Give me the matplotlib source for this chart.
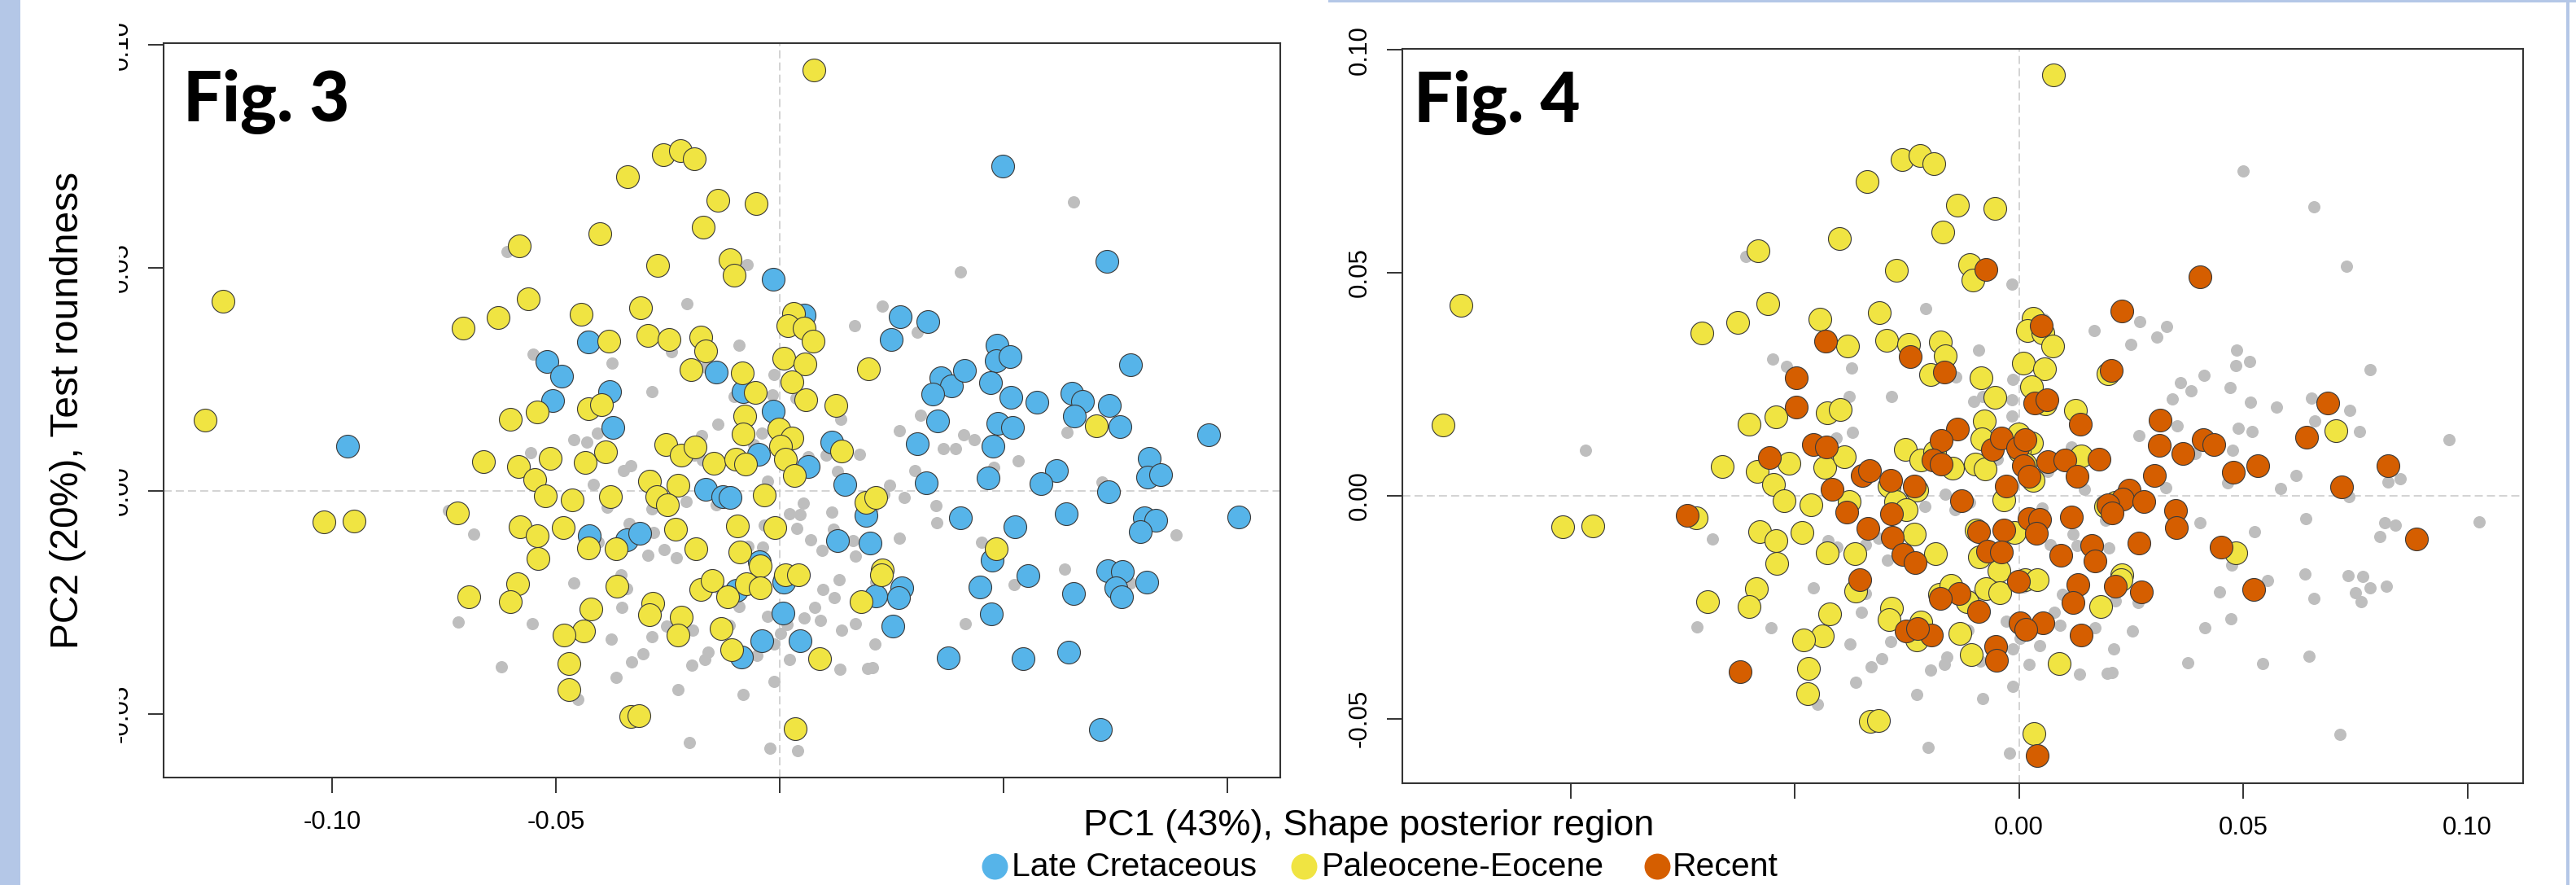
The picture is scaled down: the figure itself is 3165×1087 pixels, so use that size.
import matplotlib
matplotlib.use('Agg')
import matplotlib.pyplot as plt
from matplotlib.patches import Rectangle
from matplotlib.lines import Line2D

plt.rcParams['font.family'] = ['Liberation Sans', 'DejaVu Sans']

# ---------------- data (PC1, PC2) ----------------
lc_points = [  # Late Cretaceous
    (-0.0428, 0.0334), (-0.0519, 0.0290), (-0.0488, 0.0258), (-0.0507, 0.0203), (-0.0379, 0.0223),
    (-0.0372, 0.0142), (-0.0015, 0.0475), (0.0269, 0.0391), (0.0330, 0.0379), (0.0250, 0.0339),
    (-0.0141, 0.0266), (-0.0081, 0.0223), (-0.0015, 0.0179), (0.0055, 0.0395), (0.0360, 0.0254),
    (0.0383, 0.0236), (0.0342, 0.0217), (0.0353, 0.0157), (-0.0425, -0.0100), (-0.0342, -0.0110),
    (-0.0313, -0.0095), (-0.0048, 0.0082), (0.0064, 0.0054), (0.0116, 0.0110), (0.0308, 0.0106),
    (0.0145, 0.0015), (0.0328, 0.0018), (-0.0165, 0.0004), (-0.0127, -0.0013), (-0.0110, -0.0015),
    (0.0193, -0.0055), (0.0130, -0.0112), (0.0201, -0.0117), (-0.0045, -0.0159), (0.0010, -0.0205),
    (-0.0096, -0.0223), (0.0007, -0.0274), (-0.0040, -0.0337), (0.0046, -0.0337), (-0.0086, -0.0372),
    (0.0214, -0.0236), (0.0272, -0.0217), (0.0265, -0.0239), (0.0252, -0.0304), (-0.0966, 0.0101),
    (0.0499, 0.0728), (0.0731, 0.0514), (0.0783, 0.0283), (0.0486, 0.0326), (0.0483, 0.0291),
    (0.0514, 0.0301), (0.0412, 0.0270), (0.0471, 0.0243), (0.0516, 0.0209), (0.0574, 0.0198),
    (0.0653, 0.0219), (0.0677, 0.0200), (0.0737, 0.0192), (0.0659, 0.0167), (0.0759, 0.0144),
    (0.0488, 0.0152), (0.0520, 0.0143), (0.0477, 0.0101), (0.0958, 0.0126), (0.0826, 0.0073),
    (0.0822, 0.0031), (0.0850, 0.0037), (0.0618, 0.0045), (0.0583, 0.0016), (0.0466, 0.0029),
    (0.0735, -0.0003), (0.0640, -0.0051), (0.0815, -0.0061), (0.0839, -0.0066), (0.0805, -0.0091),
    (0.1026, -0.0058), (0.0525, -0.0080), (0.0475, -0.0156), (0.0555, -0.0191), (0.0733, -0.0180),
    (0.0766, -0.0181), (0.0750, -0.0218), (0.0763, -0.0237), (0.0820, -0.0204), (0.0657, -0.0230),
    (0.0447, -0.0215), (0.0473, -0.0276), (0.0646, -0.0361), (0.0544, -0.0377), (0.0377, -0.0375),
    (0.0716, -0.0536), (0.0403, -0.0060),
]

pe_points = [  # Paleocene-Eocene
    (-0.1244, 0.0426), (-0.1284, 0.0159), (-0.1018, -0.0070), (-0.0950, -0.0068), (0.0076, 0.0943),
    (0.0707, 0.0145), (0.0484, -0.0129),
    (-0.0339, 0.0704), (-0.0401, 0.0577), (-0.0582, 0.0549), (-0.0273, 0.0506), (-0.0561, 0.0430),
    (-0.0628, 0.0389), (-0.0707, 0.0365), (-0.0444, 0.0396), (-0.0311, 0.0411), (-0.0295, 0.0348),
    (-0.0382, 0.0335), (-0.0601, 0.0161), (-0.0542, 0.0176), (-0.0428, 0.0185), (-0.0398, 0.0193),
    (-0.0260, 0.0754), (-0.0221, 0.0763), (-0.0190, 0.0745), (-0.0138, 0.0652), (-0.0053, 0.0644),
    (-0.0170, 0.0592), (-0.0110, 0.0519), (-0.0102, 0.0484), (0.0031, 0.0398), (0.0019, 0.0371),
    (0.0054, 0.0365), (0.0075, 0.0335), (-0.0247, 0.0339), (-0.0176, 0.0345), (-0.0165, 0.0313),
    (-0.0198, 0.0272), (-0.0084, 0.0265), (-0.0054, 0.0221), (0.0010, 0.0298), (0.0057, 0.0285),
    (0.0027, 0.0244), (0.0058, 0.0205), (0.0199, 0.0273), (0.0126, 0.0192), (-0.0078, 0.0167),
    (-0.0002, 0.0139),
    (-0.0661, 0.0065), (-0.0583, 0.0055), (-0.0513, 0.0072), (-0.0434, 0.0063), (-0.0389, 0.0088),
    (-0.0547, 0.0026), (-0.0524, -0.0012), (-0.0464, -0.0021), (-0.0378, -0.0013), (-0.0290, 0.0021),
    (-0.0275, -0.0013), (-0.0719, -0.0049), (-0.0579, -0.0080), (-0.0542, -0.0100), (-0.0484, -0.0082),
    (-0.0428, -0.0128), (-0.0366, -0.0130), (-0.0540, -0.0152), (-0.0586, -0.0208), (-0.0695, -0.0238),
    (-0.0601, -0.0249), (-0.0364, -0.0214), (-0.0422, -0.0265), (-0.0438, -0.0314), (-0.0481, -0.0323),
    (-0.0284, -0.0252), (-0.0290, -0.0278), (-0.0470, -0.0388), (-0.0471, -0.0445), (-0.0332, -0.0506),
    (-0.0314, -0.0504),
    (-0.0254, 0.0103), (-0.0219, 0.0080), (-0.0189, 0.0099), (-0.0148, 0.0062), (-0.0098, 0.0071),
    (-0.0076, 0.0060), (-0.0082, 0.0128), (0.0028, 0.0118), (0.0001, 0.0100), (0.0013, 0.0071),
    (0.0032, 0.0034), (0.0139, 0.0089), (-0.0228, 0.0013), (-0.0251, -0.0031), (-0.0034, -0.0010),
    (-0.0233, -0.0086), (-0.0095, -0.0078), (-0.0010, -0.0083), (-0.0187, -0.0130), (-0.0089, -0.0137),
    (-0.0044, -0.0169), (0.0013, -0.0189), (0.0041, -0.0189), (-0.0177, -0.0221), (-0.0151, -0.0201),
    (-0.0116, -0.0238), (-0.0074, -0.0209), (-0.0043, -0.0217), (-0.0219, -0.0284), (-0.0228, -0.0323),
    (-0.0131, -0.0309), (-0.0107, -0.0357), (0.0090, -0.0377), (0.0034, -0.0534), (0.0193, -0.0025),
    (0.0215, -0.0015), (0.0230, -0.0177), (0.0227, -0.0189), (0.0182, -0.0248),
]

rec_points = [  # Recent
    (-0.0432, 0.0347), (-0.0242, 0.0312), (-0.0496, 0.0265), (-0.0497, 0.0199), (-0.0556, 0.0086),
    (-0.0459, 0.0115), (-0.0430, 0.0109), (-0.0417, 0.0015), (-0.0349, 0.0045), (-0.0333, 0.0056),
    (-0.0286, 0.0035), (-0.0234, 0.0022), (-0.0385, -0.0037), (-0.0285, -0.0041), (-0.0337, -0.0074),
    (-0.0282, -0.0093), (-0.0258, -0.0131), (-0.0231, -0.0150), (-0.0739, -0.0044), (-0.0355, -0.0189),
    (-0.0622, -0.0394), (-0.0252, -0.0304),
    (-0.0073, 0.0507), (0.0229, 0.0414), (0.0049, 0.0382), (-0.0166, 0.0278), (0.0205, 0.0280),
    (0.0036, 0.0207), (0.0063, 0.0215), (0.0137, 0.0161), (0.0315, 0.0169), (0.0312, 0.0112),
    (0.0365, 0.0095), (0.0301, 0.0045), (-0.0138, 0.0149), (-0.0174, 0.0124), (-0.0191, 0.0080),
    (-0.0173, 0.0070), (-0.0059, 0.0103), (-0.0040, 0.0130), (-0.0003, 0.0107), (0.0014, 0.0126),
    (0.0010, 0.0068), (0.0022, 0.0043), (0.0064, 0.0076), (0.0103, 0.0080), (0.0130, 0.0043),
    (0.0178, 0.0082), (-0.0028, 0.0022), (-0.0129, -0.0011), (0.0246, 0.0012), (0.0232, -0.0008),
    (0.0279, -0.0014), (0.0199, -0.0020), (0.0208, -0.0039), (0.0349, -0.0034), (0.0351, -0.0072),
    (0.0022, -0.0051), (0.0046, -0.0054), (0.0039, -0.0085), (0.0116, -0.0048), (-0.0090, -0.0080),
    (-0.0034, -0.0077), (-0.0070, -0.0124), (-0.0039, -0.0126), (0.0094, -0.0134), (0.0163, -0.0112),
    (0.0170, -0.0147), (0.0268, -0.0106), (-0.0002, -0.0193), (0.0132, -0.0200), (0.0121, -0.0239),
    (0.0215, -0.0204), (0.0273, -0.0216), (-0.0134, -0.0220), (-0.0176, -0.0231), (-0.0091, -0.0260),
    (0.0002, -0.0285), (0.0054, -0.0285), (0.0016, -0.0300), (0.0138, -0.0312), (-0.0195, -0.0312),
    (-0.0052, -0.0339), (-0.0050, -0.0370), (0.0040, -0.0583),
    (0.0403, 0.0491), (0.0688, 0.0207), (0.0642, 0.0131), (0.0410, 0.0125), (0.0434, 0.0115),
    (0.0478, 0.0052), (0.0533, 0.0068), (0.0822, 0.0068), (0.0720, 0.0019), (0.0451, -0.0116),
    (0.0523, -0.0210), (0.0886, -0.0098), (-0.0227, -0.0298),
]

other_points = [  # specimens of other ages (grey in both panels)
    (-0.0609, 0.0537), (-0.0550, 0.0307), (-0.0374, 0.0286), (-0.0285, 0.0222), (-0.0407, 0.0130),
    (-0.0684, -0.0097), (-0.0406, -0.0116), (-0.0294, -0.0144), (-0.0459, -0.0207), (-0.0342, -0.0220),
    (-0.0352, -0.0262), (-0.0718, -0.0295), (-0.0553, -0.0297), (-0.0376, -0.0333), (-0.0286, -0.0327),
    (-0.0306, -0.0366), (-0.0330, -0.0383), (-0.0365, -0.0418), (-0.0450, -0.0468), (-0.0228, -0.0446),
    (-0.0208, 0.0420), (0.0168, 0.0370), (0.0307, 0.0355), (-0.0091, 0.0326), (-0.0013, 0.0261),
    (-0.0101, 0.0211), (-0.0016, 0.0215), (0.0268, 0.0134), (-0.0209, -0.0024), (-0.0142, -0.0031),
    (0.0052, -0.0028), (0.0120, -0.0087), (0.0069, -0.0110), (0.0097, -0.0221), (0.0078, -0.0262),
    (0.0091, -0.0291), (0.0169, -0.0297), (-0.0028, -0.0281), (0.0002, -0.0320), (-0.0013, -0.0343),
    (-0.0160, -0.0362), (-0.0167, -0.0379), (-0.0197, -0.0391), (0.0022, -0.0379), (0.0135, -0.0400),
    (0.0196, -0.0398), (0.0208, -0.0396), (0.0212, -0.0344), (-0.0013, -0.0427), (-0.0081, -0.0456),
    (-0.0202, -0.0565), (-0.0022, -0.0577), (0.0393, 0.0095), (0.0637, -0.0176), (0.0783, -0.0207),
    (0.0414, -0.0297), (0.0657, 0.0648), (-0.0113, -0.0302),
]

x_ticks = [-0.10, -0.05, 0.00, 0.05, 0.10]
y_ticks = [-0.05, 0.00, 0.05, 0.10]
x_labels_fig3 = ['-0.10', '-0.05', '', '', '']
x_labels_fig4 = ['', '', '0.00', '0.05', '0.10']
y_labels = ['-0.05', '0.00', '0.05', '0.10']

legend_labels = ['Late Cretaceous', 'Paleocene-Eocene', 'Recent']
COL_LC, COL_PE, COL_REC = '#56B4E9', '#F0E442', '#D55E00'
GREY = '#BEBEBE'

# ---------------- figure ----------------
W, H = 3165, 1087
fig = plt.figure(figsize=(W / 100, H / 100), dpi=100)
fig.patch.set_facecolor('white')


def fxy(px, py):
    return px / W, 1 - py / H


all_points = lc_points + pe_points + rec_points + other_points


def draw_panel(ax, xlim, ylim, overlays, xlabels):
    ax.set_xlim(*xlim)
    ax.set_ylim(*ylim)
    dash = (0, (6.5, 3.3))
    ax.axhline(0, color='#c8c8c8', lw=1.1, ls=dash, zorder=1)
    ax.axvline(0, color='#c8c8c8', lw=1.1, ls=dash, zorder=1)
    ax.scatter([p[0] for p in all_points], [p[1] for p in all_points],
               s=117, c=GREY, linewidths=0, zorder=2)
    for k, (pts, col) in enumerate(overlays):
        ax.scatter([p[0] for p in pts], [p[1] for p in pts], s=406, c=col,
                   edgecolors='#3a3a3a', linewidths=0.8, zorder=3 + k)
    for sp in ax.spines.values():
        sp.set_linewidth(1.5)
        sp.set_color('#333333')
    ax.set_xticks(x_ticks)
    ax.set_xticklabels(xlabels)
    ax.set_yticks(y_ticks)
    ax.set_yticklabels(y_labels, rotation=90, va='center')
    ax.tick_params(axis='both', length=13.7, width=1.4, color='#333333',
                   labelsize=22.5)
    ax.tick_params(axis='x', pad=15)
    ax.tick_params(axis='y', pad=13)


ax3 = fig.add_axes([201 / W, 1 - 955 / H, (1573 - 201) / W, (955 - 53) / H])
draw_panel(ax3, (-0.1376, 0.1118), (-0.0643, 0.1004),
           [(lc_points, COL_LC), (pe_points, COL_PE)], x_labels_fig3)

ax4 = fig.add_axes([1723 / W, 1 - 962 / H, (3100 - 1723) / W, (962 - 60) / H])
draw_panel(ax4, (-0.1375, 0.1124), (-0.0645, 0.1002),
           [(pe_points, COL_PE), (rec_points, COL_REC)], x_labels_fig4)

# white box hiding Fig. 3's y tick labels (as in the composite)
fig.patches.append(Rectangle(fxy(25, 1087), 121 / W, 1, transform=fig.transFigure,
                             facecolor='white', edgecolor='none', zorder=5))
# light blue frame pieces
strip = '#B4C7E7'
fig.patches.append(Rectangle((0, 0), 25 / W, 1, transform=fig.transFigure,
                             facecolor=strip, edgecolor='none', zorder=6))
fig.patches.append(Rectangle(fxy(1632, 3), (W - 1632) / W, 3 / H, transform=fig.transFigure,
                             facecolor=strip, edgecolor='none', zorder=6))
fig.patches.append(Rectangle(fxy(3153, 1087), 4 / W, 1, transform=fig.transFigure,
                             facecolor=strip, edgecolor='none', zorder=6))

# panel tags
fig.text(*fxy(225, 149), 'Fig. 3', family='Lato', weight='black', fontsize=61,
         ha='left', va='baseline', zorder=7)
fig.text(*fxy(1737, 150), 'Fig. 4', family='Lato', weight='black', fontsize=61,
         ha='left', va='baseline', zorder=7)

# axis titles
fig.text(*fxy(84, 504), 'PC2 (20%), Test roundness', rotation=90, fontsize=34.6,
         ha='center', va='center', zorder=7)
fig.text(*fxy(1331, 1026), 'PC1 (43%), Shape posterior region', fontsize=32.5,
         ha='left', va='baseline', zorder=7)

# legend
leg_dot_x = [1222, 1602, 2035.5]
leg_txt_x = [1243, 1624, 2055]
for dx, tx, lab, col in zip(leg_dot_x, leg_txt_x, legend_labels, [COL_LC, COL_PE, COL_REC]):
    fig.add_artist(Line2D([dx / W], [1 - 1064 / H], marker='o', markersize=23,
                          markerfacecolor=col, markeredgewidth=0, linestyle='none',
                          transform=fig.transFigure, zorder=7))
    fig.text(*fxy(tx, 1076.5), lab, fontsize=29.5, ha='left', va='baseline', zorder=7)

fig.savefig('out.png', dpi=100, facecolor='white')
